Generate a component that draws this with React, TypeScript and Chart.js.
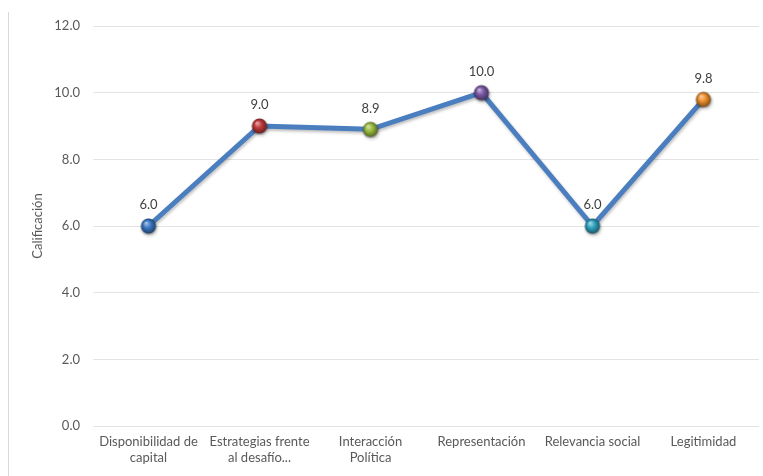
import React, { useEffect, useRef } from "react";
import { Chart, registerables } from "chart.js";

Chart.register(...registerables);

const categories: (string | string[])[] = [
  ["Disponibilidad de", "capital"],
  ["Estrategias frente", "al desafío..."],
  ["Interacción", "Política"],
  "Representación",
  "Relevancia social",
  "Legitimidad",
];
const values: number[] = [6.0, 9.0, 8.9, 10.0, 6.0, 9.8];
const pointColors: string[] = ["#3b78c4", "#c0393a", "#9bbb3f", "#7b59a8", "#2fa3bf", "#f0902c"];
const yTitle = "Calificación";
const yMin = 0;
const yMax = 12;
const yStep = 2;

const FONT = "Lato, 'Open Sans', sans-serif";

function shade(hex: string, amt: number): string {
  const n = parseInt(hex.slice(1), 16);
  let r = (n >> 16) & 255, g = (n >> 8) & 255, b = n & 255;
  const f = (c: number) => Math.max(0, Math.min(255, Math.round(amt >= 0 ? c + (255 - c) * amt : c * (1 + amt))));
  r = f(r); g = f(g); b = f(b);
  return `rgb(${r},${g},${b})`;
}

function makeBall(color: string): HTMLCanvasElement {
  const size = 18;
  const c = document.createElement("canvas");
  c.width = size;
  c.height = size;
  const ctx = c.getContext("2d")!;
  const r = 7.5;
  const cx = size / 2, cy = size / 2;
  ctx.save();
  ctx.shadowColor = "rgba(0,0,0,0.35)";
  ctx.shadowBlur = 2;
  ctx.shadowOffsetY = 1;
  const g = ctx.createRadialGradient(cx - 2.5, cy - 3, 0.5, cx, cy, r);
  g.addColorStop(0, shade(color, 0.55));
  g.addColorStop(0.45, color);
  g.addColorStop(1, shade(color, -0.45));
  ctx.fillStyle = g;
  ctx.beginPath();
  ctx.arc(cx, cy, r, 0, Math.PI * 2);
  ctx.fill();
  ctx.restore();
  return c;
}

const labelPlugin = {
  id: "valueLabels",
  afterDatasetsDraw(chart: any) {
    const ctx = chart.ctx;
    const meta = chart.getDatasetMeta(0);
    ctx.save();
    ctx.font = `13px ${FONT}`;
    ctx.fillStyle = "#404040";
    ctx.textAlign = "center";
    ctx.textBaseline = "middle";
    meta.data.forEach((el: any, i: number) => {
      ctx.fillText(values[i].toFixed(1), el.x, el.y - 21);
    });
    ctx.restore();
  },
};

const shadowPlugin = {
  id: "lineShadow",
  beforeDatasetDraw(chart: any) {
    const ctx = chart.ctx;
    ctx.save();
    ctx.shadowColor = "rgba(0,0,0,0.25)";
    ctx.shadowBlur = 3;
    ctx.shadowOffsetX = 1;
    ctx.shadowOffsetY = 2;
  },
  afterDatasetDraw(chart: any) {
    chart.ctx.restore();
  },
};

export default function App() {
  const ref = useRef<HTMLCanvasElement | null>(null);

  useEffect(() => {
    document.body.style.margin = "0";
    const canvas = ref.current!;
    const chart = new Chart(canvas, {
      type: "line",
      data: {
        labels: categories,
        datasets: [
          {
            data: values,
            borderColor: "#4a7ebf",
            borderWidth: 5,
            tension: 0,
            pointStyle: pointColors.map(makeBall) as any,
            pointRadius: 8,
            pointHoverRadius: 8,
          },
        ],
      },
      options: {
        animation: false,
        responsive: false,
        maintainAspectRatio: false,
        events: [],
        layout: { padding: { left: 30, top: 26, right: 4, bottom: 0 } },
        plugins: { legend: { display: false }, tooltip: { enabled: false } },
        scales: {
          x: {
            offset: true,
            grid: { display: false, drawTicks: false },
            border: { display: false },
            ticks: {
              color: "#595959",
              font: { family: FONT, size: 13 },
              padding: 8,
              maxRotation: 0,
              autoSkip: false,
            },
            afterFit(scale: any) {
              scale.height = 50;
            },
          },
          y: {
            min: yMin,
            max: yMax,
            grid: { color: "#e3e3e3", lineWidth: 1, drawTicks: false },
            border: { display: false },
            ticks: {
              stepSize: yStep,
              color: "#595959",
              font: { family: FONT, size: 13 },
              padding: 13,
              callback: (v: any) => Number(v).toFixed(1),
            },
            title: {
              display: true,
              text: yTitle,
              color: "#595959",
              font: { family: FONT, size: 13 },
              padding: 0,
            },
            afterFit(scale: any) {
              scale.width = 63;
            },
          },
        },
      },
      plugins: [shadowPlugin, labelPlugin],
    });
    return () => chart.destroy();
  }, []);

  return (
    <div style={{ position: "relative", width: 763, height: 476, overflow: "hidden" }}>
      <canvas ref={ref} width={772} height={476} style={{ display: "block" }} />
      <div
        style={{
          position: "absolute",
          left: 8,
          top: 12,
          bottom: 0,
          borderLeft: "1px solid #d9d9d9",
        }}
      />
    </div>
  );
}
